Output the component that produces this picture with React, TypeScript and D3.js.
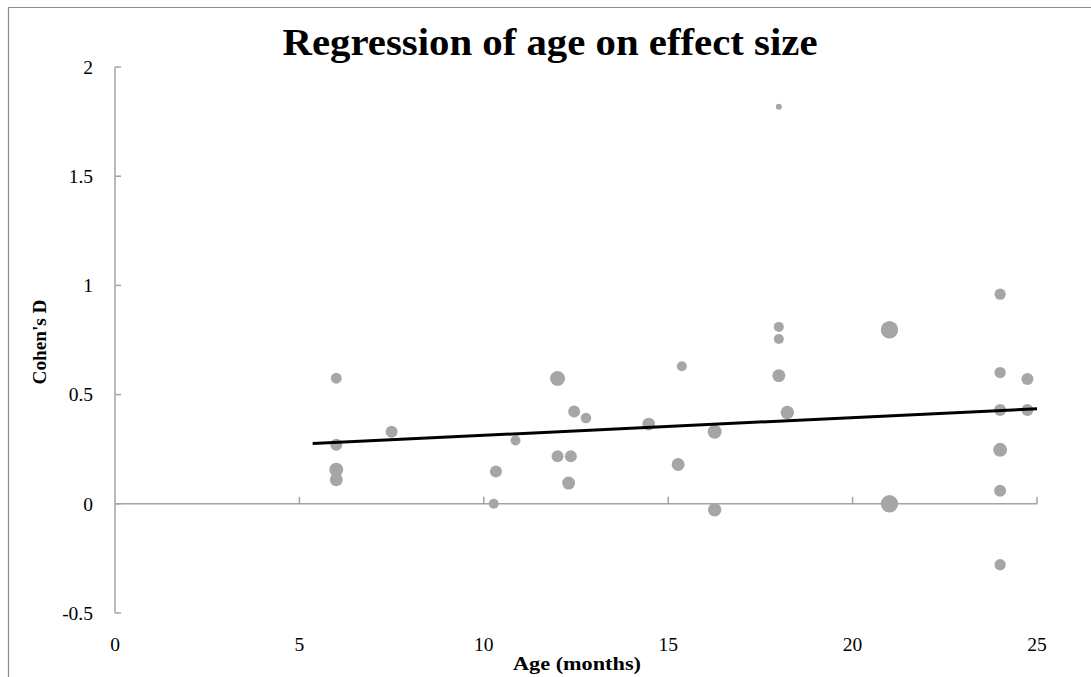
import React from "react";
import * as d3 from "d3";

// study age (months), effect size (Cohen's d), sample weight
const ages = [6, 6, 6, 6, 7.5, 10.86, 10.33, 10.27, 12, 12.45, 12.77, 12, 12.36, 12.3, 14.47, 15.37, 15.27, 16.26, 16.26, 18, 18, 18, 18.23, 21, 21, 18, 24, 24, 24.74, 24, 24.74, 24, 24, 24];
const effects = [0.575, 0.27, 0.156, 0.11, 0.33, 0.29, 0.148, 0.0, 0.574, 0.423, 0.393, 0.218, 0.218, 0.095, 0.365, 0.63, 0.18, 0.33, -0.027, 0.81, 0.755, 0.587, 0.418, 0.797, 0.0, 1.818, 0.96, 0.601, 0.571, 0.429, 0.429, 0.247, 0.06, -0.279];
const weights = [30, 36, 49, 42, 36, 25, 36, 25, 56, 36, 28, 36, 36, 42, 40, 25, 42, 49, 45, 25, 25, 42, 45, 76, 76, 9, 32, 32, 36, 36, 36, 49, 36, 32];

const xTicks = [0, 5, 10, 15, 20, 25];
const yTicks = [-0.5, 0, 0.5, 1, 1.5, 2];

// fitted line
const regRange = [5.36, 25];
const regIntercept = 0.2326;
const regSlope = 0.0081;

const W = 1091;
const H = 677;

export default function App() {
  const x = d3.scaleLinear().domain([0, 25]).range([115, 1037]);
  const y = d3.scaleLinear().domain([-0.5, 2]).range([613, 67]);
  const r = d3.scaleSqrt().domain([0, 76]).range([0, 8.7]);

  const points = ages.map((a, i) => ({ a, d: effects[i], n: weights[i] }));
  const line = d3.line<number>()
    .x(v => x(v))
    .y(v => y(regIntercept + regSlope * v));

  const axisColor = "#a3a3a3";
  const font = "'Liberation Serif', 'DejaVu Serif', serif";

  return (
    <div style={{ position: "absolute", left: 0, top: 0 }}>
      <svg width={W} height={H} style={{ display: "block" }} fontFamily={font}>
        <rect x={0} y={0} width={W} height={H} fill="#fff" />
        {/* frame, cut off at right and bottom */}
        <path d={`M8.5,${H + 2}V7.5H${W + 2}`} fill="none" stroke="#8c8c8c" strokeWidth={1.2} />

        <text x={550} y={55} textAnchor="middle" fontSize={37} fontWeight="bold" fill="#000"
          textLength={535} lengthAdjust="spacingAndGlyphs">
          Regression of age on effect size
        </text>

        {/* y axis */}
        <line x1={x(0)} x2={x(0)} y1={y(2)} y2={y(-0.5)} stroke={axisColor} strokeWidth={1.5} />
        {yTicks.map(t => (
          <g key={"y" + t}>
            <line x1={x(0)} x2={x(0) + 6} y1={y(t)} y2={y(t)} stroke={axisColor} strokeWidth={1.5} />
            <text x={93} y={y(t)} dy="0.35em" textAnchor="end" fontSize={19.5} fill="#000">{String(t)}</text>
          </g>
        ))}

        {/* x axis at zero */}
        <line x1={x(0)} x2={x(25)} y1={y(0)} y2={y(0)} stroke={axisColor} strokeWidth={1.5} />
        {xTicks.filter(t => t > 0).map(t => (
          <line key={"xt" + t} x1={x(t)} x2={x(t)} y1={y(0)} y2={y(0) - 7} stroke={axisColor} strokeWidth={1.5} />
        ))}
        {xTicks.map(t => (
          <text key={"xl" + t} x={x(t)} y={651} textAnchor="middle" fontSize={19.5} fill="#000">{String(t)}</text>
        ))}

        <text x={577} y={670} textAnchor="middle" fontSize={19} fontWeight="bold" fill="#000"
          textLength={128} lengthAdjust="spacingAndGlyphs">Age (months)</text>
        <text transform="translate(46,342) rotate(-90)" textAnchor="middle" fontSize={19} fontWeight="bold" fill="#000"
          textLength={85} lengthAdjust="spacingAndGlyphs">
          Cohen's D
        </text>

        {points.map((p, i) => (
          <circle key={i} cx={x(p.a)} cy={y(p.d)} r={r(p.n)} fill="#a6a6a6" />
        ))}

        <path d={line(regRange) || ""} fill="none" stroke="#000" strokeWidth={3} />
      </svg>
    </div>
  );
}
